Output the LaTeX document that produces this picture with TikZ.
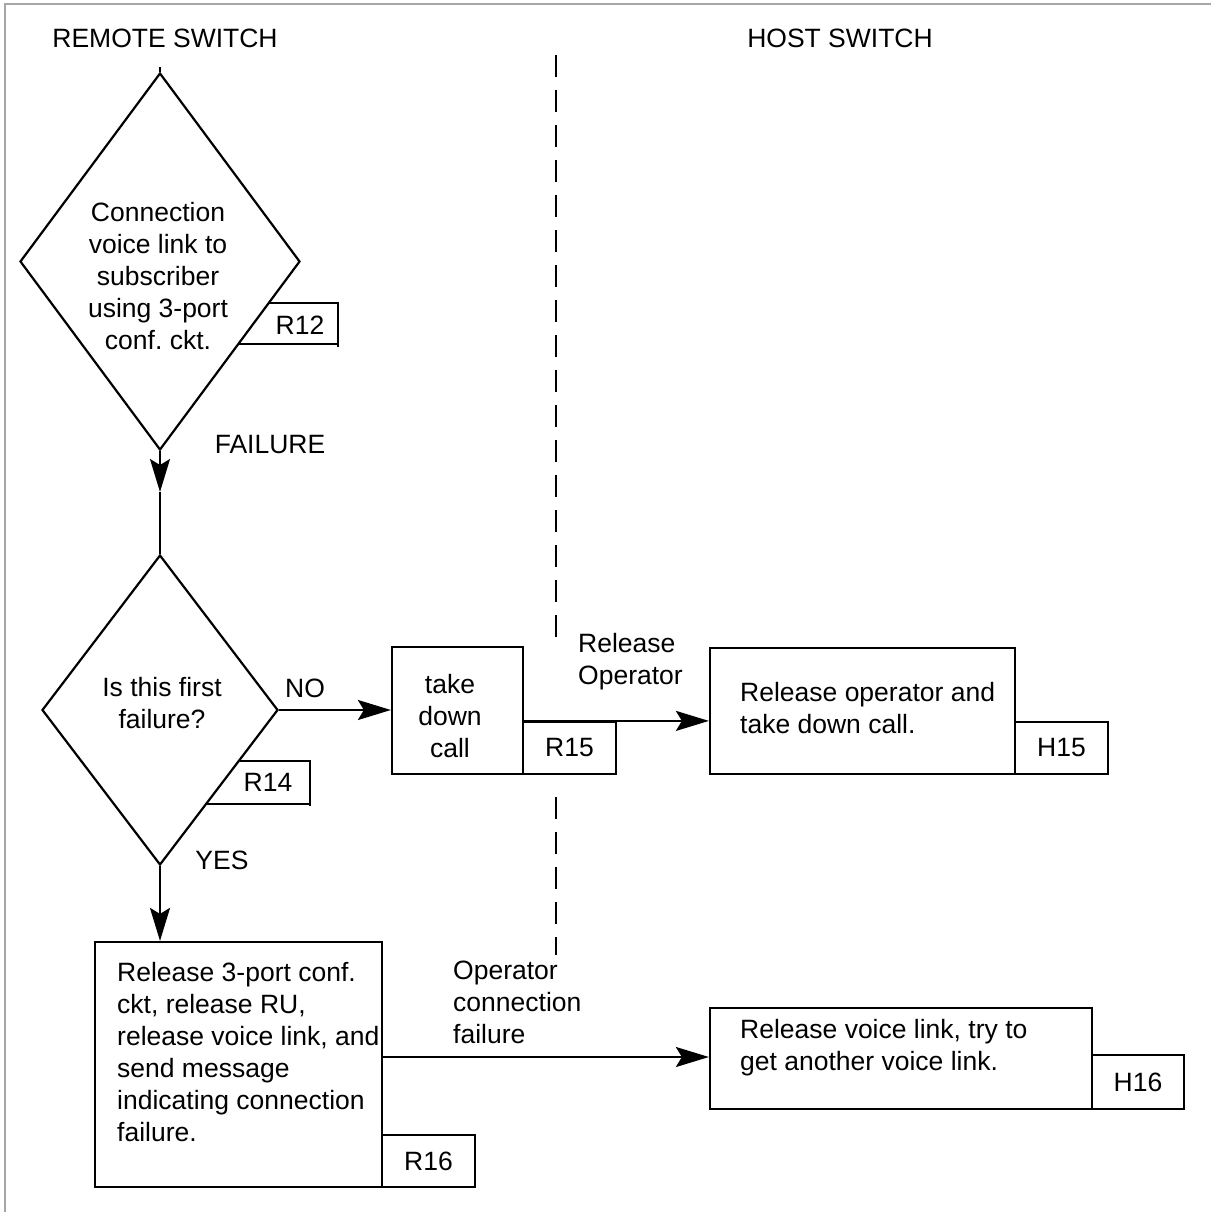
\documentclass[tikz,border=0pt]{standalone}
\usepackage{fontspec}
\setmainfont{Liberation Sans}
\usetikzlibrary{arrows.meta,shapes.geometric}
\begin{document}
\frenchspacing
\begin{tikzpicture}[x=1pt,y=-1pt,
  every node/.style={font=\fontsize{26.5}{32}\selectfont\frenchspacing, inner sep=0pt},
  ln/.style={line width=2.2pt},
  boxnode/.style={draw, line width=2.2pt, minimum width=#1},
  txt/.style={align=left, anchor=north west},
  ctxt/.style={align=center},
  arr/.style={ln, -{Stealth[length=33pt,width=20pt,inset=6pt]}},
  dia/.style={draw, diamond, line width=2.2pt, inner sep=0pt},
  sepdash/.style={line width=2.2pt, dash pattern=on 22pt off 13pt}]
\useasboundingbox (0,0) rectangle (1211,1212);
\draw[gray!70, line width=1.2pt] (5,1212) -- (5,4) -- (1211,4);

% headers
\node (remote) at (165,38) {REMOTE SWITCH};
\node (host) at (840,38) {HOST SWITCH};

% dashed separator
\coordinate (s1) at (556,55);
\coordinate (s2) at (556,650);
\coordinate (s3) at (556,797);
\coordinate (s4) at (556,955);
\draw[sepdash] (s1) -- (s2);
\draw[sepdash] (s3) -- (s4);

% diamond 1
\node[dia, minimum width=280pt, minimum height=377pt] (d1) at (160,261.5) {};
\draw[ln] (d1.north) -- ++(0,-5);
\node[ctxt] (d1t) at (158,276) {Connection\\voice link to\\subscriber\\using 3-port\\conf. ckt.};
\draw[ln] (269,303) -- (338,303) -- (338,347);
\draw[ln] (239,344) -- (338,344);
\node (r12) at (300,325) {R12};

\node (fail) at (270,445) {FAILURE};
\coordinate (m1) at (160,492);
\draw[arr] (d1.south) -- (m1);

% diamond 2
\node[dia, minimum width=236pt, minimum height=310pt] (d2) at (160,710) {};
\draw[ln] (m1) -- (d2.north);
\node[ctxt] (d2t) at (162,703) {Is this first\\failure?};
\draw[ln] (240,761) -- (310,761) -- (310,806);
\draw[ln] (207,804) -- (310,804);
\node (r14) at (268,782) {R14};
\node (no) at (305,688) {NO};
\node (yes) at (222,860) {YES};

% take down call
\node[boxnode=131pt, minimum height=127pt] (tdc) at (457.5,710.5) {};
\node[ctxt] (tdct) at (450,716) {take\\down\\call};
\draw[arr] (d2.east) -- (d2.east -| tdc.west);
\node[boxnode=93pt, minimum height=52pt] (r15) at (569.5,748) {R15};

% H15
\node[boxnode=305pt, minimum height=126pt] (h15) at (862.5,711) {};
\node[txt] (h15t) at (740,682) {Release operator and\\take down call.};
\node[boxnode=93pt, minimum height=52pt] (h15tag) at (1061.5,748) {H15};
\draw[arr] (r15.north west) -- (r15.north west -| h15.west);
\node[txt] (relop) at (578,633) {Release\\Operator};

% R16
\node[boxnode=287pt, minimum height=245pt] (r16) at (238.5,1064.5) {};
\draw[arr] (d2.south) -- (d2.south |- r16.north);
\node[txt] (r16t) at (117,962) {Release 3-port conf.\\ckt, release RU,\\release voice link, and\\send message\\indicating connection\\failure.};
\node[boxnode=93pt, minimum height=52pt] (r16tag) at (428.5,1161) {R16};

% H16
\node[boxnode=382pt, minimum height=101pt] (h16) at (901,1058.5) {};
\node[txt] (h16t) at (740,1019) {Release voice link, try to\\get another voice link.};
\node[boxnode=92pt, minimum height=54pt] (h16tag) at (1138,1082) {H16};
\coordinate (a16) at (382,1057);
\draw[arr] (a16) -- (a16 -| h16.west);
\node[txt] (opcf) at (453,961) {Operator\\connection\\failure};
\end{tikzpicture}
\end{document}
